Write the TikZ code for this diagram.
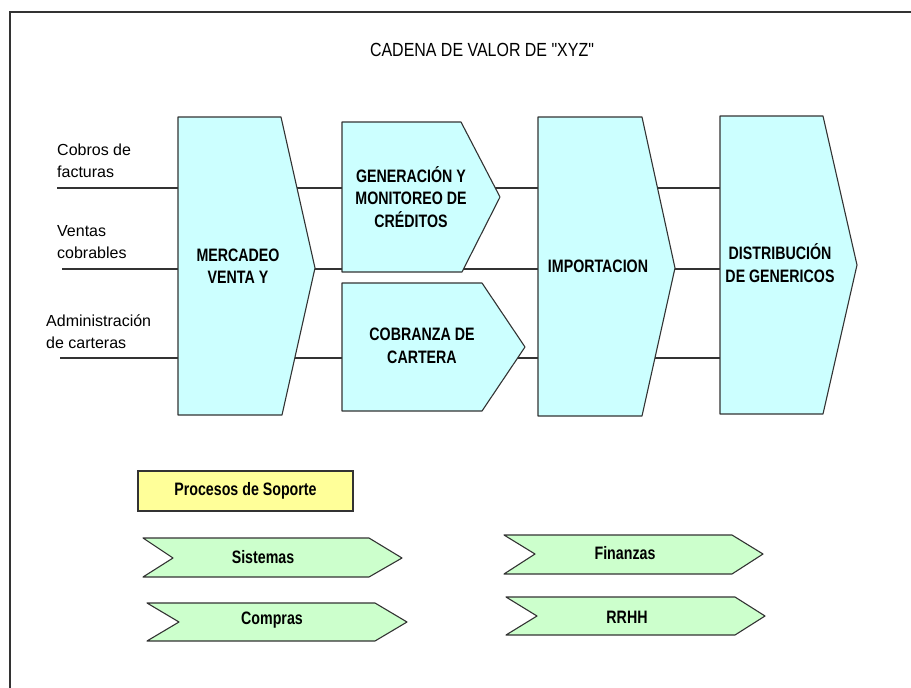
\documentclass[tikz,border=0pt]{standalone}
\usepackage{fontspec}
\setmainfont{Liberation Sans}
\newfontfamily\estrecha{Liberation Sans}[FakeStretch=0.79]
\newfontfamily\titular{Liberation Sans}[FakeStretch=0.84]
\usepackage{tikz}
\usetikzlibrary{arrows.meta}
\usetikzlibrary{calc,positioning}
\definecolor{celeste}{HTML}{CCFFFF}
\definecolor{verdeclaro}{HTML}{CCFFCC}
\definecolor{amarillo}{HTML}{FFFF99}
\definecolor{borde}{HTML}{333333}

\begin{document}
\begin{tikzpicture}[x=1pt,y=-1pt,>=Stealth,
		eslabon/.style={draw=borde,fill=celeste,line width=1.1pt,line join=round},
		apoyo/.style={draw=borde,fill=verdeclaro,line width=1.1pt,line join=round},
		rotulo/.style={font=\estrecha\bfseries\fontsize{18}{22.5}\selectfont,align=center,inner sep=0pt},
		entrada/.style={font=\fontsize{16}{22}\selectfont,align=left,anchor=west,inner sep=0pt},
		flujo/.style={draw=borde,line width=1.1pt}]
		\useasboundingbox (0,0) rectangle (911,688);
		\draw[borde,line width=1.3pt] (10,688) -- (10,12) -- (911,12);
		\node[font=\titular\fontsize{19}{22}\selectfont,inner sep=0pt] (titulo) at (482,50) {CADENA DE VALOR DE "XYZ"};
		% entradas y lineas
		\node[entrada] (cobros) at (57,161) {Cobros de\\facturas};
		\node[entrada] (ventas) at (57,242) {Ventas\\cobrables};
		\node[entrada] (admin) at (46,332) {Administración\\de carteras};
		\coordinate (a1) at (57,188);
		\coordinate (a2) at (62,269);
		\coordinate (a3) at (60,358);
		\coordinate (b1) at (720,188);
		\coordinate (b2) at (720,269);
		\coordinate (b3) at (720,358);
		\foreach \i in {1,2,3}{
			\draw[flujo] (a\i) -- (b\i);
		}
		% cadena principal
		\draw[eslabon] (178,117) -- (281,117) -- (315,268) -- (282,415) -- (178,415) -- cycle;
		\draw[eslabon] (342,122) -- (461,122) -- (500,197) -- (462,272) -- (342,272) -- cycle;
		\draw[eslabon] (342,283) -- (482,283) -- (525,347) -- (482,411) -- (342,411) -- cycle;
		\draw[eslabon] (538,117) -- (642,117) -- (675,268) -- (642,416) -- (538,416) -- cycle;
		\draw[eslabon] (720,116) -- (823,116) -- (857,265) -- (823,414) -- (720,414) -- cycle;
		\node[rotulo] (mercadeo) at (238,266) {MERCADEO\\VENTA Y};
		\node[rotulo] (generacion) at (411,197) {GENERACIÓN Y\\MONITOREO DE\\CRÉDITOS};
		\node[rotulo] (cobranza) at (422,346) {COBRANZA DE\\CARTERA};
		\node[rotulo] (importacion) at (598,266) {IMPORTACION};
		\node[rotulo] (distribucion) at (780,263) {DISTRIBUCIÓN\\DE GENERICOS};
		% procesos de soporte
		\node[rotulo,draw=borde,fill=amarillo,line width=1.1pt,minimum width=215pt,minimum height=40pt] (soporte) at (245.5,491) {Procesos de Soporte};
		\draw[apoyo] (143,538) -- (369,538) -- (402,558) -- (369,577) -- (143,577) -- (173,558) -- cycle;
		\draw[apoyo] (147,603) -- (375,603) -- (407,622) -- (375,641) -- (147,641) -- (179,622) -- cycle;
		\draw[apoyo] (504,535) -- (732,535) -- (763,554) -- (732,574) -- (504,574) -- (535,554) -- cycle;
		\draw[apoyo] (506,597) -- (735,597) -- (765,616) -- (735,635) -- (506,635) -- (537,616) -- cycle;
		\node[rotulo] (sistemas) at (263,557) {Sistemas};
		\node[rotulo] (compras) at (272,620) {Compras};
		\node[rotulo] (finanzas) at (625,553) {Finanzas};
		\node[rotulo] (rrhh) at (627,617) {RRHH};
	\end{tikzpicture}
\end{document}
